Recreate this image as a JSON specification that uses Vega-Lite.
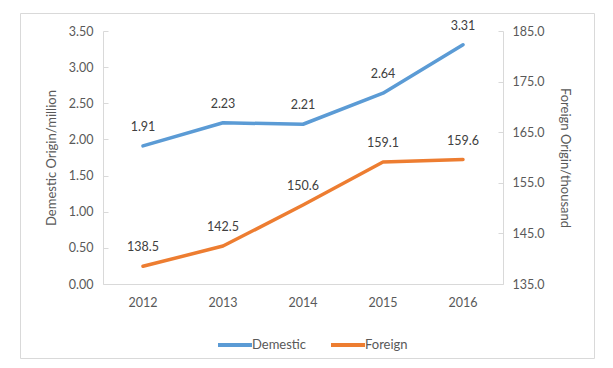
{
  "$schema": "https://vega.github.io/schema/vega-lite/v6.json",
  "width": 574,
  "height": 345,
  "autosize": {"type": "none"},
  "padding": {"left": 20, "top": 13, "right": 19, "bottom": 10},
  "background": "white",
  "config": {
    "view": {"stroke": "#d9d9d9", "strokeWidth": 1},
    "font": "Lato",
    "axis": {
      "domainColor": "#d9d9d9",
      "tickColor": "#d9d9d9",
      "labelColor": "#595959",
      "labelFontSize": 12.5,
      "labelFont": "Lato",
      "titleColor": "#595959",
      "titleFontSize": 13,
      "titleFontWeight": "normal",
      "titleFont": "Lato",
      "grid": false
    }
  },
  "data": {
    "values": [
      {"year": "2012", "demestic": 1.91, "foreign": 138.5},
      {"year": "2013", "demestic": 2.23, "foreign": 142.5},
      {"year": "2014", "demestic": 2.21, "foreign": 150.6},
      {"year": "2015", "demestic": 2.64, "foreign": 159.1},
      {"year": "2016", "demestic": 3.31, "foreign": 159.6}
    ]
  },
  "encoding": {
    "x": {
      "field": "year",
      "type": "ordinal",
      "scale": {"type": "band", "range": [83, 483], "paddingInner": 0, "paddingOuter": 0},
      "axis": {"offset": -74, "labelAngle": 0, "ticks": false, "labelPadding": 12, "title": null}
    }
  },
  "layer": [
    {
      "encoding": {
        "y": {
          "field": "demestic",
          "type": "quantitative",
          "scale": {"domain": [0, 3.5], "range": [271, 18], "nice": false, "zero": false},
          "axis": {
            "orient": "left",
            "offset": -83,
            "values": [0, 0.5, 1, 1.5, 2, 2.5, 3, 3.5],
            "format": ".2f",
            "tickSize": -5,
            "labelPadding": 15,
            "title": "Demestic Origin/million",
            "titlePadding": 10
          }
        }
      },
      "layer": [
        {
          "mark": {"type": "line", "strokeWidth": 3.5, "strokeCap": "round", "strokeJoin": "round"},
          "encoding": {
            "color": {
              "datum": "Demestic",
              "type": "nominal",
              "scale": {"domain": ["Demestic", "Foreign"], "range": ["#5B9BD5", "#ED7D31"]},
              "legend": {
                "orient": "none",
                "legendX": 196,
                "legendY": 313,
                "direction": "horizontal",
                "symbolType": "stroke",
                "symbolSize": 1156,
                "symbolStrokeWidth": 4,
                "labelFontSize": 13,
                "labelColor": "#595959",
                "labelFont": "Lato",
                "labelOffset": -2,
                "columnPadding": 16,
                "title": null
              }
            }
          }
        },
        {
          "mark": {"type": "text", "dy": -19, "fontSize": 12.5, "fill": "#404040", "font": "Lato"},
          "encoding": {"text": {"field": "demestic", "type": "quantitative", "format": ".2f"}}
        }
      ]
    },
    {
      "encoding": {
        "y": {
          "field": "foreign",
          "type": "quantitative",
          "scale": {"domain": [135, 185], "range": [271, 18], "nice": false, "zero": false},
          "axis": {
            "orient": "right",
            "offset": -91,
            "values": [135, 145, 155, 165, 175, 185],
            "format": ".1f",
            "tickSize": -5,
            "labelPadding": 14,
            "title": "Foreign Origin/thousand",
            "titlePadding": 14
          }
        }
      },
      "layer": [
        {
          "mark": {"type": "line", "strokeWidth": 3.5, "strokeCap": "round", "strokeJoin": "round"},
          "encoding": {"color": {"datum": "Foreign", "type": "nominal"}}
        },
        {
          "mark": {"type": "text", "dy": -19, "fontSize": 12.5, "fill": "#404040", "font": "Lato"},
          "encoding": {"text": {"field": "foreign", "type": "quantitative", "format": ".1f"}}
        }
      ]
    }
  ],
  "resolve": {"scale": {"y": "independent"}}
}
